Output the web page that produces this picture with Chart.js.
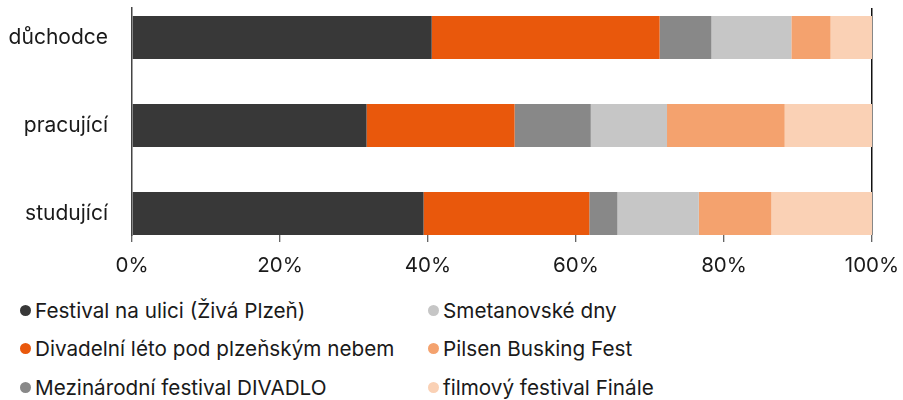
<!DOCTYPE html>
<html>
<head>
<meta charset="utf-8">
<script src="https://cdn.jsdelivr.net/npm/chart.js@4"></script>
<style>
    body { margin: 0; background: #fff; }
    #wrap { position: relative; width: 903px; height: 400px; font-family: Inter, 'Noto Sans', sans-serif; color: #1a1a1a; }
    #chart { position: absolute; left: 0; top: 0; }
    .legend-item { position: absolute; display: flex; align-items: center; font-size: 20.7px; white-space: nowrap; height: 24px; }
    .legend-item .dot { width: 11px; height: 11px; border-radius: 50%; margin-right: 4px; flex: none; }
</style>
</head>
<body>
<div id="wrap">
    <canvas id="chart" width="903" height="290"></canvas>
</div>
<script>
// Categories (rows, top to bottom)
const categories = ['důchodce', 'pracující', 'studující'];

// Series values in % (each row sums to 100)
const festivalNaUlici = [40.5, 31.7, 39.4];
const divadelniLeto = [30.8, 20.0, 22.4];
const mezinarodniDivadlo = [7.0, 10.3, 3.8];
const smetanovskeDny = [10.8, 10.3, 11.0];
const pilsenBusking = [5.3, 15.9, 9.8];
const filmovyFinale = [5.6, 11.8, 13.6];

const seriesNames = [
    'Festival na ulici (Živá Plzeň)',
    'Divadelní léto pod plzeňským nebem',
    'Mezinárodní festival DIVADLO',
    'Smetanovské dny',
    'Pilsen Busking Fest',
    'filmový festival Finále'
];
const seriesValues = [festivalNaUlici, divadelniLeto, mezinarodniDivadlo, smetanovskeDny, pilsenBusking, filmovyFinale];
const seriesColors = ['#383838', '#e9580c', '#888888', '#c6c6c6', '#f4a26e', '#fad1b5'];

const xTicks = [0, 20, 40, 60, 80, 100];

const textColor = '#1a1a1a';
const fontFamily = "Inter, 'Noto Sans', sans-serif";

const datasets = seriesNames.map((name, s) => ({
    label: name,
    data: categories.map((c, i) => ({ x: seriesValues[s][i], y: i })),
    backgroundColor: seriesColors[s],
    borderWidth: 0,
    barPercentage: 1,
    categoryPercentage: 0.489
}));

new Chart(document.getElementById('chart'), {
    type: 'bar',
    data: { datasets },
    options: {
        indexAxis: 'y',
        responsive: false,
        animation: false,
        devicePixelRatio: 1,
        layout: { padding: { top: 8, right: 31, left: 0, bottom: 0 } },
        plugins: { legend: { display: false }, tooltip: { enabled: false } },
        scales: {
            x: {
                type: 'linear',
                stacked: true,
                min: 0,
                max: 100,
                afterBuildTicks: scale => { scale.ticks = xTicks.map(v => ({ value: v })); },
                afterFit: scale => { scale.height = 55; scale.paddingLeft = 0; scale.paddingRight = 0; },
                border: { display: false },
                grid: {
                    color: ctx => ctx.tick && ctx.tick.value === 100 ? '#111' : 'rgba(0,0,0,0)',
                    lineWidth: 1.5,
                    tickColor: '#333',
                    tickLength: 7,
                    tickWidth: 1
                },
                ticks: {
                    padding: 12,
                    color: textColor,
                    font: { family: fontFamily, size: 20.5 },
                    maxRotation: 0,
                    callback: v => v + '%'
                }
            },
            y: {
                type: 'linear',
                stacked: true,
                reverse: true,
                offset: false,
                grace: 0,
                min: -0.335,
                max: 2.244,
                afterBuildTicks: scale => { scale.ticks = categories.map((c, i) => ({ value: i })); },
                afterFit: scale => { scale.width = 132; scale.paddingTop = 0; scale.paddingBottom = 0; },
                border: { display: true, color: '#444', width: 1.5 },
                grid: { display: false, drawTicks: false, offset: false },
                ticks: {
                    padding: 24,
                    color: textColor,
                    font: { family: fontFamily, size: 21 },
                    callback: v => categories[v]
                }
            }
        }
    }
});

// Legend: two columns, filled column by column
const wrap = document.getElementById('wrap');
const legendCols = [20, 428];
const legendRows = [310, 348, 387];
seriesNames.forEach((name, s) => {
    const item = document.createElement('div');
    item.className = 'legend-item';
    item.style.left = legendCols[Math.floor(s / 3)] + 'px';
    item.style.top = (legendRows[s % 3] - 12) + 'px';
    const dot = document.createElement('span');
    dot.className = 'dot';
    dot.style.background = seriesColors[s];
    const label = document.createElement('span');
    label.textContent = name;
    item.appendChild(dot);
    item.appendChild(label);
    wrap.appendChild(item);
});
</script>
</body>
</html>
